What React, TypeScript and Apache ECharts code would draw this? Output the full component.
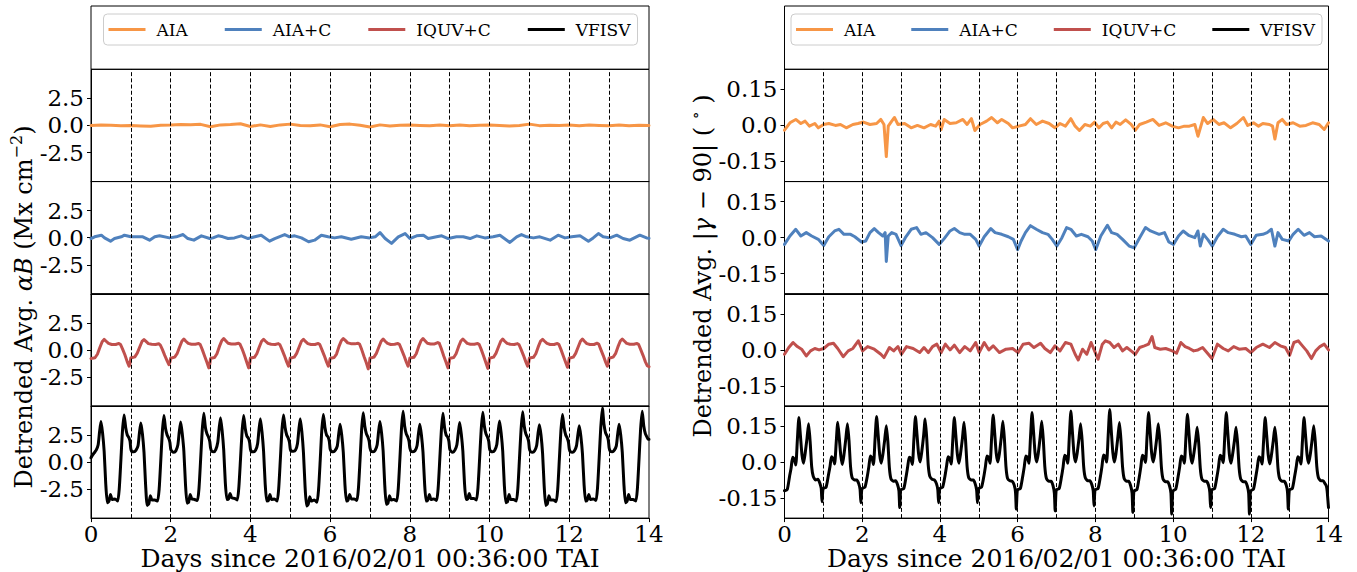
import React, { useEffect, useRef } from "react";
import * as echarts from "echarts";

// ---------- categories / ticks ----------
const SERIES_NAMES = ["AIA", "AIA+C", "IQUV+C", "VFISV"];
const X_TICK_INTERVAL = 2;
const DAY_LINES = [1, 2, 3, 4, 5, 6, 7, 8, 9, 10, 11, 12, 13];
const ALPHA_TICKS = [-2.5, 0, 2.5];
const GAMMA_TICKS = [-0.15, 0, 0.15];
const ALPHA_LIMIT = 5.17;
const GAMMA_LIMIT = 0.234;
const X_LABEL = "Days since 2016/02/01 00:36:00 TAI";

// ---------- left panel: detrended avg alpha*B ----------
const ALPHA_AIA: [number, number][] = [
  [0, 0.0], [0.25, 0.05], [0.5, 0.02], [0.75, -0.03], [1.0, 0.0], [1.25, -0.05], [1.5, -0.08], [1.75, 0.02],
  [2.0, 0.03], [2.25, 0.08], [2.5, 0.06], [2.75, 0.1], [3.0, -0.12], [3.25, 0.05], [3.5, 0.08], [3.75, 0.15],
  [4.0, -0.1], [4.25, 0.05], [4.5, -0.1], [4.75, 0.05], [5.0, 0.12], [5.25, 0.0], [5.5, -0.03], [5.75, 0.05],
  [6.0, -0.12], [6.25, 0.08], [6.5, 0.12], [6.75, 0.02], [7.0, -0.15], [7.25, 0.05], [7.5, -0.05], [7.75, 0.02],
  [8.0, 0.04], [8.25, 0.0], [8.5, -0.03], [8.75, 0.03], [9.0, -0.02], [9.25, 0.03], [9.5, -0.03], [9.75, 0.02],
  [10.0, 0.05], [10.25, 0.0], [10.5, -0.05], [10.75, 0.0], [11.0, 0.12], [11.25, -0.02], [11.5, 0.02], [11.75, 0.0],
  [12.0, 0.03], [12.25, -0.02], [12.5, 0.04], [12.75, 0.0], [13.0, -0.02], [13.25, 0.03], [13.5, -0.02], [13.75, 0.02],
  [14.0, 0.0],
];

const ALPHA_AIAC: [number, number][] = [
  [0.0, -0.08], [0.09, 0.08], [0.26, 0.23], [0.34, -0.02], [0.49, -0.32], [0.59, -0.08], [0.76, 0.08], [0.84, 0.23],
  [1.0, 0.08], [1.18, 0.08], [1.3, 0.08], [1.47, -0.23], [1.6, 0.08], [1.72, 0.17], [1.97, -0.02], [2.14, 0.08],
  [2.31, 0.29], [2.43, -0.08], [2.58, -0.23], [2.77, 0.17], [2.98, -0.08], [3.06, -0.02], [3.19, 0.17], [3.31, 0.08],
  [3.44, -0.08], [3.6, -0.02], [3.77, 0.17], [3.94, -0.08], [4.11, 0.08], [4.27, 0.23], [4.48, -0.32], [4.61, -0.08],
  [4.86, 0.29], [4.98, 0.08], [5.11, 0.17], [5.28, -0.02], [5.46, -0.38], [5.61, -0.23], [5.78, 0.23], [5.95, 0.08],
  [6.11, -0.02], [6.28, 0.08], [6.53, -0.14], [6.78, 0.08], [6.99, -0.02], [7.13, 0.08], [7.25, 0.47], [7.38, -0.08],
  [7.54, -0.53], [7.71, 0.08], [7.88, 0.38], [8.0, -0.08], [8.17, 0.17], [8.34, 0.23], [8.46, -0.08], [8.67, 0.08],
  [8.8, 0.17], [8.96, -0.08], [9.17, 0.08], [9.34, 0.08], [9.51, -0.08], [9.68, 0.17], [9.88, -0.02], [10.09, 0.08],
  [10.26, 0.23], [10.51, -0.44], [10.68, 0.08], [10.8, 0.29], [10.93, 0.08], [11.1, -0.02], [11.26, 0.08], [11.52, -0.23],
  [11.72, 0.23], [11.89, -0.02], [12.06, 0.08], [12.27, 0.17], [12.48, -0.32], [12.6, -0.02], [12.73, 0.38], [12.85, 0.08],
  [13.02, -0.02], [13.19, 0.23], [13.35, -0.08], [13.52, -0.23], [13.77, 0.23], [13.94, -0.02], [14.0, -0.05],
];

const ALPHA_IQUVC_PHASES = [0.0, 0.04, 0.1, 0.16, 0.22, 0.28, 0.33, 0.38, 0.44, 0.52, 0.62, 0.7, 0.74, 0.79, 0.85, 0.91, 0.955, 0.98];
const ALPHA_IQUVC_DAYS = [
  [-0.8, -0.76, -0.72, -0.4, 0.2, 0.75, 0.97, 0.8, 0.6, 0.5, 0.5, 0.6, 0.5, 0.1, -0.45, -1.1, -1.5, -1.2],
  [-0.72, -0.7, -0.64, -0.3, 0.25, 0.78, 0.95, 0.78, 0.58, 0.52, 0.5, 0.57, 0.45, 0.05, -0.5, -1.0, -1.35, -1.1],
  [-0.75, -0.72, -0.66, -0.35, 0.25, 0.8, 1.0, 0.8, 0.6, 0.52, 0.52, 0.6, 0.5, 0.05, -0.55, -1.15, -1.65, -1.3],
  [-0.78, -0.74, -0.7, -0.35, 0.3, 0.85, 1.05, 0.85, 0.62, 0.55, 0.55, 0.62, 0.52, 0.1, -0.5, -1.15, -1.65, -1.3],
  [-0.75, -0.72, -0.68, -0.35, 0.25, 0.8, 0.98, 0.8, 0.6, 0.52, 0.5, 0.58, 0.48, 0.05, -0.5, -1.1, -1.5, -1.2],
  [-0.75, -0.72, -0.66, -0.32, 0.25, 0.8, 0.98, 0.78, 0.58, 0.5, 0.5, 0.6, 0.5, 0.05, -0.5, -1.1, -1.5, -1.2],
  [-0.78, -0.74, -0.7, -0.38, 0.3, 0.85, 1.05, 0.88, 0.65, 0.58, 0.56, 0.62, 0.52, 0.05, -0.6, -1.2, -1.75, -1.35],
  [-0.75, -0.72, -0.66, -0.32, 0.25, 0.8, 1.0, 0.8, 0.6, 0.5, 0.52, 0.6, 0.5, 0.05, -0.5, -1.1, -1.5, -1.2],
  [-0.75, -0.72, -0.68, -0.35, 0.3, 0.85, 1.05, 0.85, 0.62, 0.55, 0.55, 0.68, 0.6, 0.1, -0.55, -1.15, -1.65, -1.3],
  [-0.78, -0.74, -0.7, -0.35, 0.28, 0.82, 1.0, 0.82, 0.6, 0.52, 0.52, 0.6, 0.5, 0.05, -0.55, -1.2, -1.7, -1.3],
  [-0.75, -0.72, -0.66, -0.32, 0.25, 0.8, 1.0, 0.8, 0.6, 0.52, 0.5, 0.58, 0.48, 0.05, -0.5, -1.1, -1.5, -1.2],
  [-0.75, -0.72, -0.68, -0.35, 0.28, 0.82, 0.98, 0.8, 0.6, 0.5, 0.5, 0.6, 0.5, 0.05, -0.55, -1.15, -1.6, -1.25],
  [-0.75, -0.72, -0.66, -0.32, 0.25, 0.8, 1.0, 0.8, 0.58, 0.5, 0.5, 0.62, 0.52, 0.05, -0.5, -1.1, -1.5, -1.2],
  [-0.75, -0.72, -0.66, -0.35, 0.28, 0.82, 1.0, 0.82, 0.6, 0.52, 0.52, 0.6, 0.5, 0.05, -0.5, -1.1, -1.45, -1.5],
];
const ALPHA_IQUVC_END = -1.55;

const ALPHA_VFISV_PHASES = [0, 0.03, 0.08, 0.13, 0.18, 0.215, 0.25, 0.29, 0.33, 0.37, 0.41, 0.45, 0.49, 0.53, 0.6, 0.67, 0.71, 0.75, 0.79, 0.83, 0.87, 0.91, 0.95, 0.98];
const ALPHA_VFISV_DAYS = [
  [0.4, 0.6, 0.85, 1.1, 1.6, 2.8, 3.75, 2.7, 1.0, -2.0, -3.75, -3.6, -3.0, -3.45, -3.4, -3.6, -2.4, 0.2, 2.9, 4.35, 3.2, 2.5, 2.25, 1.9],
  [1.2, 0.95, 0.95, 1.1, 1.5, 2.7, 3.6, 2.6, 0.9, -2.1, -4.0, -3.85, -3.1, -3.5, -3.5, -3.6, -2.5, 0.1, 2.8, 4.3, 3.1, 2.5, 2.2, 1.8],
  [1.2, 1.0, 0.9, 1.05, 1.6, 2.8, 3.7, 2.6, 1.0, -2.0, -3.8, -3.7, -3.0, -3.4, -3.45, -3.55, -2.4, 0.2, 2.9, 4.5, 3.2, 2.6, 2.3, 1.9],
  [1.3, 1.0, 0.95, 1.15, 1.8, 3.1, 4.1, 2.9, 1.1, -1.9, -3.45, -3.4, -2.9, -3.3, -3.35, -3.5, -2.3, 0.2, 2.8, 4.3, 3.1, 2.4, 2.2, 1.8],
  [1.2, 0.95, 0.95, 1.1, 1.7, 3.0, 4.0, 2.8, 1.0, -2.0, -3.6, -3.55, -3.0, -3.45, -3.4, -3.6, -2.4, 0.2, 2.9, 4.35, 3.2, 2.5, 2.2, 1.8],
  [1.2, 1.0, 1.0, 1.1, 1.7, 3.0, 4.0, 2.8, 0.9, -2.2, -4.05, -3.9, -3.2, -3.6, -3.5, -3.7, -2.5, 0.1, 2.9, 4.4, 3.2, 2.5, 2.3, 1.9],
  [1.2, 1.0, 0.95, 1.1, 1.5, 2.6, 3.5, 2.5, 0.9, -2.0, -3.6, -3.5, -3.0, -3.4, -3.4, -3.55, -2.4, 0.2, 3.0, 4.55, 3.3, 2.6, 2.3, 1.9],
  [1.3, 1.0, 0.95, 1.1, 1.6, 2.8, 3.75, 2.7, 1.0, -2.1, -3.9, -3.8, -3.1, -3.5, -3.45, -3.6, -2.4, 0.3, 3.1, 4.7, 3.3, 2.6, 2.3, 1.9],
  [1.3, 1.0, 0.95, 1.05, 1.5, 2.6, 3.5, 2.5, 0.9, -2.0, -3.6, -3.5, -3.0, -3.45, -3.4, -3.55, -2.4, 0.2, 2.9, 4.5, 3.2, 2.5, 2.3, 1.9],
  [1.2, 1.0, 0.9, 1.1, 1.6, 2.7, 3.65, 2.6, 1.0, -1.9, -3.45, -3.4, -2.9, -3.35, -3.35, -3.5, -2.3, 0.3, 3.0, 4.6, 3.3, 2.6, 2.3, 1.9],
  [1.2, 1.0, 0.95, 1.1, 1.6, 2.8, 3.8, 2.7, 1.0, -2.1, -3.75, -3.65, -3.0, -3.45, -3.45, -3.6, -2.4, 0.3, 3.0, 4.65, 3.3, 2.6, 2.3, 1.9],
  [1.2, 0.95, 0.9, 1.05, 1.5, 2.6, 3.45, 2.5, 0.8, -2.2, -4.0, -3.85, -3.1, -3.5, -3.5, -3.65, -2.5, 0.2, 2.9, 4.4, 3.2, 2.5, 2.2, 1.8],
  [1.2, 0.95, 0.9, 1.05, 1.5, 2.5, 3.35, 2.4, 0.8, -2.0, -3.6, -3.5, -3.0, -3.45, -3.4, -3.55, -2.3, 0.4, 3.2, 5.0, 3.5, 2.7, 2.4, 2.0],
  [1.3, 1.0, 0.95, 1.1, 1.5, 2.6, 3.5, 2.5, 0.9, -2.0, -3.75, -3.6, -3.0, -3.45, -3.45, -3.6, -2.4, 0.3, 3.1, 4.7, 3.3, 2.6, 2.3, 2.1],
];
const ALPHA_VFISV_END = 2.1;

// ---------- right panel: detrended avg |gamma - 90| ----------
const GAMMA_AIA: [number, number][] = [
  [0.0, -0.02], [0.14, 0.011], [0.29, 0.025], [0.42, 0.008], [0.53, 0.018], [0.64, -0.003], [0.78, 0.008], [0.87, -0.01],
  [1.01, 0.004], [1.14, 0.008], [1.31, 0.0], [1.44, 0.004], [1.59, -0.01], [1.76, 0.004], [1.89, 0.008], [2.03, 0.014],
  [2.2, 0.004], [2.37, 0.008], [2.48, 0.025], [2.56, 0.004], [2.62, -0.13], [2.67, -0.003], [2.76, 0.018], [2.83, 0.033],
  [2.92, 0.004], [3.09, 0.008], [3.26, -0.01], [3.42, 0.0], [3.59, -0.01], [3.76, 0.004], [3.89, -0.003], [3.98, 0.018],
  [4.03, -0.017], [4.11, 0.025], [4.26, 0.008], [4.42, 0.011], [4.59, 0.025], [4.7, 0.004], [4.81, 0.028], [4.9, -0.021],
  [5.03, 0.004], [5.2, 0.018], [5.33, 0.033], [5.48, 0.011], [5.59, 0.025], [5.76, 0.008], [5.87, -0.01], [6.03, -0.003],
  [6.2, 0.004], [6.33, 0.028], [6.48, 0.004], [6.64, 0.018], [6.81, 0.008], [6.96, -0.01], [7.09, 0.008], [7.23, -0.003],
  [7.37, 0.028], [7.48, -0.003], [7.59, -0.021], [7.73, 0.004], [7.87, -0.003], [7.98, 0.014], [8.09, -0.01], [8.2, 0.008],
  [8.31, 0.014], [8.42, -0.01], [8.53, 0.014], [8.64, 0.004], [8.78, 0.023], [8.92, 0.004], [9.03, -0.02], [9.14, 0.004],
  [9.31, 0.014], [9.48, 0.025], [9.64, 0.0], [9.81, 0.011], [9.98, -0.003], [10.14, -0.01], [10.29, -0.003], [10.42, -0.003],
  [10.56, 0.004], [10.64, -0.045], [10.78, 0.033], [10.89, 0.008], [11.03, 0.025], [11.18, 0.004], [11.31, 0.011], [11.48, -0.01],
  [11.64, 0.008], [11.81, 0.033], [11.92, 0.0], [12.07, 0.011], [12.2, -0.003], [12.31, 0.008], [12.48, 0.004], [12.56, -0.003],
  [12.62, -0.057], [12.7, 0.011], [12.81, 0.025], [12.92, 0.004], [13.09, 0.011], [13.26, -0.003], [13.42, 0.0], [13.59, 0.011],
  [13.76, 0.004], [13.89, -0.017], [14.0, 0.011],
];

const GAMMA_AIAC: [number, number][] = [
  [0.0, -0.028], [0.14, 0.007], [0.29, 0.035], [0.42, 0.007], [0.56, 0.021], [0.7, 0.007], [0.87, -0.007], [1.01, -0.033],
  [1.14, 0.004], [1.29, 0.028], [1.4, 0.035], [1.53, 0.014], [1.7, 0.014], [1.81, 0.004], [1.98, -0.018], [2.09, -0.014],
  [2.2, 0.021], [2.31, 0.038], [2.42, 0.021], [2.53, 0.007], [2.59, 0.021], [2.62, -0.099], [2.67, 0.007], [2.76, 0.021],
  [2.87, 0.014], [3.0, -0.033], [3.11, 0.0], [3.26, 0.035], [3.4, 0.042], [3.51, 0.014], [3.64, 0.021], [3.81, 0.0],
  [3.98, -0.028], [4.11, -0.004], [4.26, 0.028], [4.37, 0.038], [4.51, 0.021], [4.64, 0.014], [4.78, 0.014], [4.92, -0.007],
  [5.01, -0.035], [5.14, 0.004], [5.31, 0.038], [5.42, 0.021], [5.59, 0.014], [5.76, 0.004], [5.89, -0.007], [6.0, -0.05],
  [6.09, -0.014], [6.2, 0.021], [6.33, 0.05], [6.48, 0.035], [6.64, 0.021], [6.78, 0.014], [6.89, -0.007], [7.01, -0.035],
  [7.14, 0.0], [7.26, 0.042], [7.37, 0.035], [7.51, 0.007], [7.64, 0.014], [7.81, 0.004], [7.92, -0.014], [8.01, -0.05],
  [8.14, 0.007], [8.31, 0.052], [8.42, 0.021], [8.56, 0.014], [8.7, -0.007], [8.87, -0.035], [9.0, -0.042], [9.14, 0.0],
  [9.29, 0.042], [9.42, 0.028], [9.53, 0.021], [9.64, 0.014], [9.78, 0.021], [9.89, -0.018], [10.01, -0.028], [10.14, 0.007],
  [10.26, 0.028], [10.4, 0.01], [10.56, 0.0], [10.64, 0.028], [10.7, -0.035], [10.78, 0.014], [10.89, -0.007], [11.01, -0.035],
  [11.14, 0.004], [11.29, 0.035], [11.42, 0.021], [11.59, 0.014], [11.76, 0.004], [11.87, 0.007], [12.0, -0.028], [12.14, 0.01],
  [12.31, 0.014], [12.42, 0.021], [12.53, 0.035], [12.62, -0.035], [12.7, 0.021], [12.81, -0.007], [12.98, -0.014], [13.09, 0.014],
  [13.22, 0.035], [13.37, 0.01], [13.51, 0.021], [13.64, 0.004], [13.81, 0.007], [14.0, -0.014],
];

const GAMMA_IQUVC: [number, number][] = [
  [0.0, -0.018], [0.11, 0.01], [0.22, 0.031], [0.33, 0.014], [0.44, 0.003], [0.56, -0.025], [0.67, -0.004], [0.78, 0.006],
  [0.89, 0.0], [1.01, 0.006], [1.14, 0.024], [1.26, 0.028], [1.37, 0.006], [1.51, -0.028], [1.64, -0.004], [1.76, 0.006],
  [1.9, 0.038], [2.01, -0.004], [2.14, 0.014], [2.31, 0.003], [2.48, -0.018], [2.56, -0.032], [2.7, 0.01], [2.81, -0.004],
  [2.92, 0.014], [3.01, -0.018], [3.14, 0.014], [3.31, 0.006], [3.48, -0.011], [3.59, 0.01], [3.7, -0.011], [3.81, 0.014],
  [3.92, 0.024], [4.03, -0.011], [4.14, 0.024], [4.26, 0.0], [4.37, 0.02], [4.51, -0.011], [4.64, 0.014], [4.78, -0.004],
  [4.92, 0.031], [5.01, -0.011], [5.14, 0.031], [5.26, 0.0], [5.37, 0.017], [5.53, -0.011], [5.7, 0.003], [5.87, 0.006],
  [6.01, -0.011], [6.14, 0.024], [6.29, 0.028], [6.42, 0.01], [6.59, 0.028], [6.7, 0.006], [6.84, -0.011], [6.96, 0.017],
  [7.09, -0.004], [7.23, 0.031], [7.37, 0.024], [7.48, -0.018], [7.56, -0.042], [7.67, 0.003], [7.78, -0.018], [7.89, 0.031],
  [7.98, -0.004], [8.07, -0.039], [8.18, 0.024], [8.26, 0.038], [8.37, 0.031], [8.48, 0.01], [8.59, 0.024], [8.7, -0.004],
  [8.81, 0.01], [8.92, -0.004], [9.03, -0.018], [9.14, 0.01], [9.26, 0.017], [9.37, 0.024], [9.46, 0.056], [9.53, 0.01],
  [9.67, 0.003], [9.81, 0.006], [9.98, -0.004], [10.09, -0.014], [10.2, 0.031], [10.31, 0.014], [10.42, 0.006], [10.53, -0.004],
  [10.64, 0.0], [10.76, 0.01], [10.87, -0.011], [11.0, -0.036], [11.14, 0.024], [11.29, 0.006], [11.42, -0.004], [11.56, 0.014],
  [11.7, 0.003], [11.87, 0.006], [12.0, -0.011], [12.14, 0.01], [12.31, 0.024], [12.48, 0.01], [12.62, 0.031], [12.76, 0.017],
  [12.89, 0.01], [13.0, -0.022], [13.11, 0.031], [13.22, 0.038], [13.33, 0.017], [13.44, -0.004], [13.56, -0.036], [13.67, -0.004],
  [13.78, 0.014], [13.89, 0.024], [14.0, 0.0],
];

const GAMMA_VFISV_PHASES = [0.0, 0.07, 0.13, 0.17, 0.21, 0.25, 0.29, 0.33, 0.37, 0.41, 0.45, 0.49, 0.53, 0.58, 0.62, 0.66, 0.7, 0.74, 0.8, 0.86, 0.91, 0.945, 0.965, 0.985];
const GAMMA_VFISV_DAYS = [
  [-0.12, -0.115, -0.06, -0.025, 0.02, 0.012, -0.012, 0.09, 0.186, 0.11, 0.03, -0.005, 0.035, 0.1, 0.16, 0.085, -0.02, -0.06, -0.075, -0.072, -0.088, -0.11, -0.166, -0.12],
  [-0.11, -0.105, -0.055, -0.02, 0.022, 0.015, -0.008, 0.08, 0.166, 0.1, 0.025, -0.01, 0.03, 0.1, 0.16, 0.09, -0.02, -0.065, -0.075, -0.075, -0.09, -0.115, -0.17, -0.12],
  [-0.11, -0.105, -0.06, -0.02, 0.025, 0.018, -0.01, 0.095, 0.19, 0.115, 0.03, -0.005, 0.03, 0.095, 0.152, 0.085, -0.025, -0.07, -0.08, -0.078, -0.095, -0.12, -0.19, -0.125],
  [-0.115, -0.11, -0.06, -0.02, 0.02, 0.015, -0.01, 0.095, 0.19, 0.115, 0.035, 0.0, 0.04, 0.11, 0.18, 0.1, -0.015, -0.06, -0.072, -0.075, -0.09, -0.115, -0.17, -0.12],
  [-0.11, -0.105, -0.058, -0.018, 0.022, 0.016, -0.008, 0.09, 0.186, 0.11, 0.03, -0.005, 0.035, 0.1, 0.166, 0.09, -0.02, -0.065, -0.075, -0.075, -0.092, -0.118, -0.17, -0.12],
  [-0.11, -0.105, -0.06, -0.02, 0.025, 0.02, -0.005, 0.1, 0.197, 0.12, 0.035, 0.0, 0.035, 0.105, 0.17, 0.095, -0.02, -0.068, -0.078, -0.08, -0.095, -0.125, -0.197, -0.13],
  [-0.115, -0.11, -0.06, -0.02, 0.025, 0.02, -0.005, 0.1, 0.207, 0.125, 0.035, 0.0, 0.035, 0.105, 0.17, 0.095, -0.02, -0.068, -0.08, -0.08, -0.098, -0.13, -0.204, -0.13],
  [-0.115, -0.11, -0.06, -0.02, 0.028, 0.022, -0.005, 0.105, 0.213, 0.125, 0.035, 0.0, 0.035, 0.1, 0.16, 0.09, -0.02, -0.065, -0.078, -0.078, -0.095, -0.12, -0.183, -0.125],
  [-0.115, -0.11, -0.06, -0.018, 0.03, 0.025, 0.0, 0.11, 0.22, 0.13, 0.04, 0.0, 0.035, 0.105, 0.165, 0.09, -0.02, -0.068, -0.08, -0.08, -0.1, -0.13, -0.21, -0.135],
  [-0.12, -0.115, -0.062, -0.02, 0.028, 0.022, -0.002, 0.105, 0.207, 0.125, 0.035, 0.0, 0.035, 0.1, 0.16, 0.09, -0.022, -0.07, -0.082, -0.082, -0.1, -0.13, -0.217, -0.135],
  [-0.12, -0.112, -0.06, -0.02, 0.025, 0.02, -0.005, 0.1, 0.2, 0.12, 0.03, -0.005, 0.03, 0.09, 0.145, 0.08, -0.025, -0.07, -0.08, -0.08, -0.095, -0.125, -0.19, -0.13],
  [-0.115, -0.11, -0.06, -0.02, 0.028, 0.022, -0.003, 0.105, 0.207, 0.12, 0.03, -0.005, 0.03, 0.09, 0.145, 0.08, -0.025, -0.07, -0.082, -0.082, -0.1, -0.13, -0.217, -0.135],
  [-0.12, -0.112, -0.06, -0.02, 0.022, 0.016, -0.008, 0.09, 0.186, 0.11, 0.028, -0.008, 0.028, 0.09, 0.145, 0.08, -0.025, -0.068, -0.08, -0.08, -0.095, -0.125, -0.197, -0.13],
  [-0.115, -0.11, -0.058, -0.02, 0.022, 0.016, -0.008, 0.09, 0.186, 0.11, 0.028, -0.005, 0.03, 0.095, 0.152, 0.085, -0.02, -0.065, -0.078, -0.078, -0.09, -0.1, -0.12, -0.16],
];
const GAMMA_VFISV_END = -0.19;

// ---------- styles / layout ----------
const COLORS = ["#F79646", "#4F81BD", "#C0504D", "#000000"];
const FONT = '"DejaVu Serif", "Liberation Serif", serif';
const PANEL_LEFT = [91, 784.5];
const PANEL_WIDTH = [558, 544];
const FRAME_TOP = 6;
const ROW_TOP = 69.3;
const ROW_H = 112.25;
const TICK_FONT = 23;
const XLABEL_FONT = 25;
const YLABEL_FONT = 24;

function fromDays(phases: number[], rows: number[][], end: number): [number, number][] {
  const pts: [number, number][] = [];
  rows.forEach((row, d) => row.forEach((v, i) => pts.push([d + phases[i], v])));
  pts.push([rows.length, end]);
  return pts;
}

function buildOption() {
  const panels = [
    {
      data: [ALPHA_AIA, ALPHA_AIAC, fromDays(ALPHA_IQUVC_PHASES, ALPHA_IQUVC_DAYS, ALPHA_IQUVC_END), fromDays(ALPHA_VFISV_PHASES, ALPHA_VFISV_DAYS, ALPHA_VFISV_END)],
      limit: ALPHA_LIMIT,
      ticks: ALPHA_TICKS,
      fmt: (v: number) => (v === 0 ? "0.0" : v.toFixed(1)),
    },
    {
      data: [GAMMA_AIA, GAMMA_AIAC, GAMMA_IQUVC, fromDays(GAMMA_VFISV_PHASES, GAMMA_VFISV_DAYS, GAMMA_VFISV_END)],
      limit: GAMMA_LIMIT,
      ticks: GAMMA_TICKS,
      fmt: (v: number) => (v === 0 ? "0.0" : v.toFixed(2)),
    },
  ];

  const grid: any[] = [];
  const xAxis: any[] = [];
  const yAxis: any[] = [];
  const series: any[] = [];

  panels.forEach((panel, p) => {
    for (let r = 0; r < 4; r++) {
      const idx = grid.length;
      const bottom = r === 3;
      grid.push({
        left: PANEL_LEFT[p],
        width: PANEL_WIDTH[p],
        top: ROW_TOP + ROW_H * r,
        height: ROW_H,
        show: true,
        borderColor: "#000",
        borderWidth: 1,
        backgroundColor: "transparent",
      });
      xAxis.push({
        type: "value",
        gridIndex: idx,
        min: 0,
        max: 14,
        interval: X_TICK_INTERVAL,
        axisLine: { show: true, onZero: false, lineStyle: { color: "#000", width: 1 } },
        axisTick: { show: bottom, length: 4, inside: false, lineStyle: { color: "#000" } },
        axisLabel: { show: bottom, fontFamily: FONT, fontSize: TICK_FONT, color: "#000", margin: 4 },
        splitLine: { show: false },
        name: bottom ? X_LABEL : "",
        nameLocation: "middle",
        nameGap: 23,
        nameTextStyle: { fontFamily: FONT, fontSize: XLABEL_FONT, color: "#000", verticalAlign: "top" },
      });
      yAxis.push({
        type: "value",
        gridIndex: idx,
        min: -panel.limit,
        max: panel.limit,
        axisLine: { show: true, onZero: false, lineStyle: { color: "#000", width: 1 } },
        axisTick: { show: true, length: 4, inside: false, customValues: panel.ticks, lineStyle: { color: "#000" } },
        axisLabel: {
          show: true,
          customValues: panel.ticks,
          formatter: panel.fmt,
          fontFamily: FONT,
          fontSize: TICK_FONT,
          color: "#000",
          margin: 7,
        },
        splitLine: { show: false },
      });
      series.push({
        type: "line",
        name: "day-lines-" + idx,
        xAxisIndex: idx,
        yAxisIndex: idx,
        data: [],
        z: 1,
        silent: true,
        markLine: {
          silent: true,
          symbol: ["none", "none"],
          label: { show: false },
          lineStyle: { type: [4, 2.2], color: "#000", width: 1 },
          emphasis: { disabled: true },
          data: DAY_LINES.map((d) => ({ xAxis: d })),
        },
      });
      series.push({
        type: "line",
        name: SERIES_NAMES[r],
        xAxisIndex: idx,
        yAxisIndex: idx,
        data: panel.data[r],
        showSymbol: false,
        symbol: "none",
        smooth: r === 3 ? 0.2 : 0,
        clip: true,
        z: 3,
        color: COLORS[r],
        lineStyle: { color: COLORS[r], width: 3, join: "round", cap: "round" },
        emphasis: { disabled: true },
      });
    }
  });

  const legendBase = {
    top: 14,
    orient: "horizontal",
    icon: "rect",
    itemWidth: 37,
    itemHeight: 3,
    padding: [7, 7, 7, 5],
    backgroundColor: "rgba(255,255,255,0.8)",
    borderColor: "#cccccc",
    borderWidth: 1,
    borderRadius: 4,
    selectedMode: false,
    textStyle: { fontFamily: FONT, fontSize: 17, color: "#000", padding: [0, 0, 0, 6] },
    data: SERIES_NAMES,
  };

  const graphic: any[] = [];
  [0, 1].forEach((p) => {
    graphic.push({
      type: "rect",
      silent: true,
      z: 0,
      shape: { x: PANEL_LEFT[p], y: FRAME_TOP, width: PANEL_WIDTH[p], height: ROW_TOP - FRAME_TOP },
      style: { fill: "none", stroke: "#000", lineWidth: 1 },
    });
  });
  const richLabel = {
    i: { fontFamily: FONT, fontSize: YLABEL_FONT, fontStyle: "italic", fill: "#000", lineHeight: 32 },
    s: { fontFamily: FONT, fontSize: 16, fill: "#000", verticalAlign: "top", lineHeight: 16 },
  };
  graphic.push({
    type: "text",
    x: 24,
    y: 307,
    rotation: Math.PI / 2,
    silent: true,
    style: {
      text: "Detrended Avg. {i|αB} (Mx cm{s|−2})",
      fontFamily: FONT,
      fontSize: YLABEL_FONT,
      lineHeight: 32,
      fill: "#000",
      align: "center",
      verticalAlign: "middle",
      rich: richLabel,
    },
  });
  graphic.push({
    type: "text",
    x: 703,
    y: 266,
    rotation: Math.PI / 2,
    silent: true,
    style: {
      text: "Detrended Avg. |{i|γ} − 90| ( {s|∘} )",
      fontFamily: FONT,
      fontSize: YLABEL_FONT,
      lineHeight: 32,
      fill: "#000",
      align: "center",
      verticalAlign: "middle",
      rich: richLabel,
    },
  });

  return {
    animation: false,
    backgroundColor: "#ffffff",
    grid,
    xAxis,
    yAxis,
    series,
    legend: [
      { ...legendBase, left: 103.5, itemGap: 37 },
      { ...legendBase, left: 791, itemGap: 36 },
    ],
    graphic,
  };
}

export default function App() {
  const ref = useRef<HTMLDivElement>(null);
  useEffect(() => {
    if (!ref.current) return;
    const chart = echarts.init(ref.current, null, { renderer: "svg" });
    chart.setOption(buildOption() as any);
    return () => chart.dispose();
  }, []);
  return (
    <div
      ref={ref}
      style={{ position: "fixed", left: 0, top: 0, width: 1357, height: 572, background: "#fff" }}
    />
  );
}
